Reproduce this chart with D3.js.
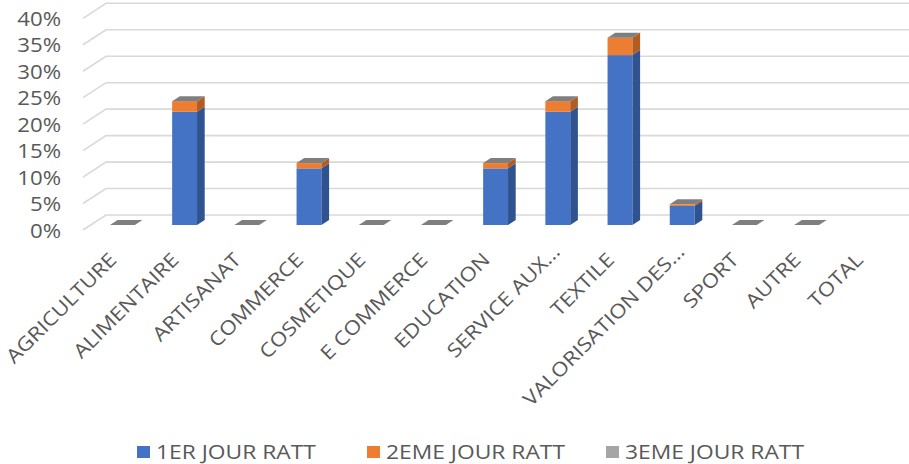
<!DOCTYPE html>
<html><head><meta charset="utf-8">
<script src="https://cdn.jsdelivr.net/npm/d3@7"></script>
<style>html,body{margin:0;padding:0;background:#fff;overflow:hidden}</style>
</head><body>
<svg id="chart" width="909" height="464"></svg>
<script>
// ---- data ----
const categories = ["AGRICULTURE","ALIMENTAIRE","ARTISANAT","COMMERCE","COSMETIQUE","E COMMERCE","EDUCATION","SERVICE AUX\u2026","TEXTILE","VALORISATION DES\u2026","SPORT","AUTRE","TOTAL"];
const seriesNames = ["1ER JOUR RATT","2EME JOUR RATT","3EME JOUR RATT"];
const jour1 = [0, 21.4, 0, 10.7, 0, 0, 10.7, 21.4, 32.1, 3.6, 0, 0, null];
const jour2 = [0, 2.0, 0, 1.0, 0, 0, 1.0, 2.0, 3.3, 0.3, 0, 0, null];
const jour3 = [0, 0, 0, 0, 0, 0, 0, 0, 0, 0, 0, 0, null];
const yTicks = [0, 5, 10, 15, 20, 25, 30, 35, 40];

// ---- style ----
const frontColors = ["#4472C4", "#ED7D31", "#A5A5A5"];
const sideColors  = ["#2F5391", "#B35C22", "#7A7A7A"];
const topColors   = ["#6A8FD3", "#F29B5E", "#7F7F7F"];
const textColor = "#595959";
const font = "'Open Sans', 'DejaVu Sans', sans-serif";
const SX = 1.14; // horizontal text stretch

const svg = d3.select("#chart");

// floor geometry (front plane) and depth offset
const depthDX = 23, depthDY = -15;
const x = d3.scaleBand().domain(categories).range([83, 83 + 13 * 62.2]);
const y = d3.scaleLinear().domain([0, 40]).range([230, 18.3]);

// ---- gridlines (side wall slant + back wall) ----
const grid = svg.append("g");
yTicks.forEach(t => {
  const yf = y(t);
  grid.append("path")
    .attr("d", `M${x.range()[0]},${yf} L${x.range()[0] + depthDX},${yf + depthDY} L${x.range()[1] + depthDX},${yf + depthDY}`)
    .attr("fill", "none").attr("stroke", "#D9D9D9").attr("stroke-width", 1.6);
});

// ---- y axis labels ----
const yAxis = d3.axisLeft(y).tickValues(yTicks).tickSize(0).tickPadding(0).tickFormat(d => d + "%");
const yg = svg.append("g").attr("transform", "translate(61,0)").call(yAxis);
yg.select(".domain").remove();
yg.selectAll("text")
  .attr("font-family", font).attr("font-size", 19.5).attr("fill", textColor)
  .attr("x", 0).attr("dy", "0.36em")
  .attr("transform", `scale(${SX},1)`);

// ---- stacked 3D bars ----
const table = categories.map((c, i) => ({ cat: c, j1: jour1[i] || 0, j2: jour2[i] || 0, j3: jour3[i] || 0 }));
const keys = ["j1", "j2", "j3"];
const stack = d3.stack().keys(keys)(table);

const barFrac = 1 / 3;              // front face depth position
const bdx = depthDX / 3, bdy = depthDY / 3; // bar depth
const bars = svg.append("g");
categories.forEach((c, i) => {
  if (jour1[i] === null) return;
  const bx = x(c) + barFrac * depthDX + x.bandwidth() * 0.31;
  const bw = x.bandwidth() * 0.40;
  stack.forEach((layer, k) => {
    const [v0, v1] = layer[i];
    const yb = y(v0) + barFrac * depthDY;
    const yt = y(v1) + barFrac * depthDY;
    if (v1 > v0) {
      bars.append("rect").attr("x", bx).attr("y", yt).attr("width", bw).attr("height", yb - yt)
        .attr("fill", frontColors[k]);
      bars.append("path")
        .attr("d", `M${bx + bw},${yb} L${bx + bw + bdx},${yb + bdy} L${bx + bw + bdx},${yt + bdy} L${bx + bw},${yt} Z`)
        .attr("fill", sideColors[k]);
    }
    if (k === stack.length - 1) {
      bars.append("path")
        .attr("d", `M${bx},${yt} L${bx + bw},${yt} L${bx + bw + bdx},${yt + bdy} L${bx + bdx},${yt + bdy} Z`)
        .attr("fill", topColors[k]);
    }
  });
});

// ---- x axis labels (rotated 45deg) ----
const xg = svg.append("g");
categories.forEach(c => {
  const ax = x(c) + x.bandwidth() * 0.56;
  const ay = 261;
  xg.append("g").attr("transform", `translate(${ax},${ay}) rotate(-45) scale(${SX},1)`)
    .append("text")
    .attr("x", c.endsWith("\u2026") ? 10 : 0)
    .attr("text-anchor", "end")
    .attr("font-family", font).attr("font-size", 19.5).attr("fill", textColor)
    .text(c);
});

// ---- legend ----
const lg = svg.append("g");
const legendX = [137, 367, 606];
seriesNames.forEach((name, k) => {
  lg.append("rect").attr("x", legendX[k]).attr("y", 446).attr("width", 13).attr("height", 12).attr("fill", frontColors[k]);
  lg.append("text")
    .attr("transform", `translate(${legendX[k] + 19},458.5) scale(1.17,1)`)
    .attr("font-family", font).attr("font-size", 19.5).attr("fill", textColor)
    .text(name);
});
</script>
</body></html>
